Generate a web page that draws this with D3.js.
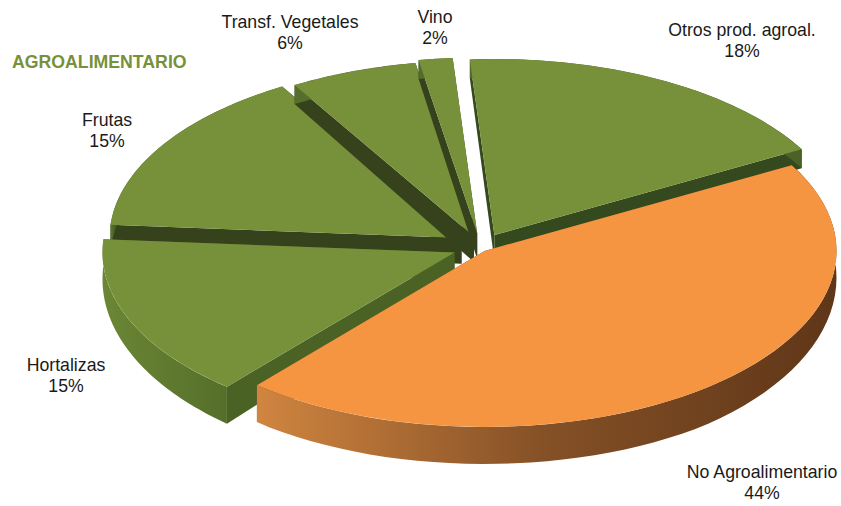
<!DOCTYPE html>
<html>
<head>
<meta charset="utf-8">
<script src="https://cdn.jsdelivr.net/npm/d3@7"></script>
<style>
  html, body { margin: 0; padding: 0; background: #fff; }
  text { font-family: 'Liberation Sans', Arial, sans-serif; font-size: 17.7px; fill: #1a1a1a; }
</style>
</head>
<body>
<svg class="canvas" width="841" height="506"></svg>
<script>
'use strict';
// Values (unrounded estimates, labels round them)
const categories = ['Otros prod. agroal.', 'No Agroalimentario', 'Hortalizas', 'Frutas', 'Transf. Vegetales', 'Vino'];
const shares = [18, 44.3, 15, 15.3, 5.85, 1.55];
const groupTitle = 'AGROALIMENTARIO';

// Layout
const radiusX = 352,
  squash = 0.5,
  firstAngle = (-4 * Math.PI) / 180,
  hubs = [[494.4, 235], [484.5, 251], [454.5, 252.5], [461.5, 238], [474, 236.5], [477.2, 233.6]], // exploded slice centres
  drawOrder = [3, 4, 5, 0, 2, 1], // back to front
  labelAnchors = [[742, 31], [762, 473], [66, 366], [107, 121], [290, 23], [435, 18]];

// Colours
const green = '#77913a',
  orange = '#f59541',
  topColors = [green, orange, green, green, green, green],
  edgeColors = ['#344a1e', '#7a4820', '#4b6225', '#36421c', '#36421c', '#36421c'],
  wallStops = [
    ['#5d7630', '#4a6026'],
    ['#d08540', '#845026', '#5f3618'],
    ['#6b8634', '#556f2b'],
    ['#5d7630', '#4a6026'],
    ['#5d7630', '#4a6026'],
    ['#5d7630', '#4a6026']
  ];

const canvas = d3.select('.canvas');
const defs = canvas.append('defs');

// Nearer parts of the pie look thicker
const depth = d3.scaleLinear().domain([150, 388]).range([19, 37]).clamp(true);

const slices = d3
  .pie()
  .sort(null)
  .startAngle(firstAngle)
  .endAngle(firstAngle + 2 * Math.PI)(shares);

const topArc = d3.arc().innerRadius(0).outerRadius(radiusX);

function rimPoint(slice, angle) {
  const [cx, cy] = hubs[slice.index],
    [x, y] = d3.pointRadial(angle, radiusX);
  return [cx + x, cy + y * squash];
}

const drop = ([x, y]) => [x, y + depth(y)];
const line = d3.line();

drawOrder.forEach(i => {
  const slice = slices[i],
    hub = hubs[i],
    g = canvas.append('g').attr('class', 'slice');

  // Radial side walls
  [slice.startAngle, slice.endAngle].forEach(angle => {
    const rim = rimPoint(slice, angle);
    g.append('path')
      .attr('d', line([hub, rim, drop(rim), drop(hub)]) + 'Z')
      .attr('fill', edgeColors[i]);
  });

  // Outer wall, sampled along the rim
  const angles = d3.range(0, 61).map(t =>
    d3.interpolateNumber(slice.startAngle, slice.endAngle)(t / 60)
  );
  const rim = angles.map(a => rimPoint(slice, a));
  const xRange = d3.extent(rim.filter(p => p[1] > hub[1] - 30), p => p[0]);
  const gradId = 'wall-' + i;
  const grad = defs
    .append('linearGradient')
    .attr('id', gradId)
    .attr('gradientUnits', 'userSpaceOnUse')
    .attr('x1', xRange[0])
    .attr('x2', xRange[1])
    .attr('y1', 0)
    .attr('y2', 0);
  wallStops[i].forEach((color, s, stops) => {
    grad.append('stop').attr('offset', s / (stops.length - 1)).attr('stop-color', color);
  });
  g.append('path')
    .attr('d', line(rim.concat(rim.map(drop).reverse())) + 'Z')
    .attr('fill', `url(#${gradId})`);

  // Top face
  g.append('path')
    .attr('d', topArc(slice))
    .attr('transform', `translate(${hub[0]},${hub[1]}) scale(1,${squash})`)
    .attr('fill', topColors[i]);
});

// Labels
const total = d3.sum(shares);
const labels = canvas
  .selectAll('.label')
  .data(categories)
  .enter()
  .append('text')
  .attr('class', 'label')
  .attr('text-anchor', 'middle')
  .attr('transform', (d, i) => `translate(${labelAnchors[i]})`);
labels.append('tspan').attr('x', 0).attr('y', 5).text(d => d);
labels
  .append('tspan')
  .attr('x', 0)
  .attr('y', 26)
  .text((d, i) => `${Math.round((shares[i] / total) * 100)}%`);

canvas
  .append('text')
  .attr('x', 12)
  .attr('y', 68)
  .style('font-weight', 'bold')
  .style('fill', green)
  .text(groupTitle);
</script>
</body>
</html>
